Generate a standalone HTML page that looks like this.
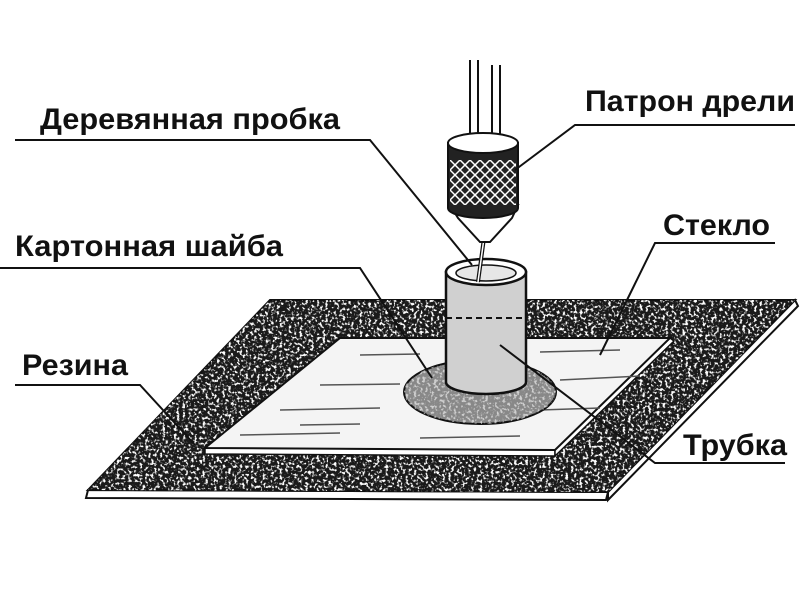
<!DOCTYPE html>
<html><head><meta charset="utf-8"><style>
html,body{margin:0;padding:0;background:#fff}
svg{display:block}
text{font-family:"Liberation Sans",sans-serif;font-size:30px;fill:#111;font-weight:bold}
</style></head><body>
<svg width="808" height="606" viewBox="0 0 808 606" xmlns="http://www.w3.org/2000/svg">
<defs>
<filter id="noise" x="0" y="0" width="100%" height="100%">
<feTurbulence type="fractalNoise" baseFrequency="0.35" numOctaves="2" seed="3" result="t"/>
<feColorMatrix type="matrix" values="0 0 0 0 0  0 0 0 0 0  0 0 0 0 0  -6 0 0 0 2.9" in="t" result="a"/>
<feFlood flood-color="#fff"/>
<feComposite in2="a" operator="in" result="w"/>
<feComposite in="w" in2="SourceGraphic" operator="in"/>
</filter>
<clipPath id="rub"><path d="M270,300 L795,300 L608,492 L88,490 Z"/></clipPath>
<clipPath id="ck"><rect x="450" y="160" width="66" height="45"/></clipPath>
</defs>
<!-- rubber -->
<path d="M88,490 L608,492 L606,500 L86,498 Z" fill="#fff" stroke="#111" stroke-width="2"/>
<path d="M608,492 L795,300 L798,306 L608,500 Z" fill="#fff" stroke="#111" stroke-width="2"/>
<path d="M270,300 L795,300 L608,492 L88,490 Z" fill="#1a1a1a" stroke="#111" stroke-width="2"/>
<rect x="80" y="295" width="720" height="210" fill="#333" filter="url(#noise)" clip-path="url(#rub)"/>
<!-- glass -->
<path d="M205,448 L555,450 L555,456 L205,454 Z" fill="#fff" stroke="#111" stroke-width="1.5"/>
<path d="M555,450 L670,338 L674,341 L555,456 Z" fill="#fff" stroke="#111" stroke-width="1.5"/>
<path d="M340,338 L670,338 L555,450 L205,448 Z" fill="#f4f4f4" stroke="#111" stroke-width="2"/>
<g stroke="#555" stroke-width="1.5">
<line x1="360" y1="355" x2="420" y2="354"/><line x1="540" y1="352" x2="620" y2="350"/>
<line x1="320" y1="385" x2="400" y2="384"/><line x1="560" y1="380" x2="640" y2="376"/>
<line x1="280" y1="410" x2="380" y2="408"/><line x1="540" y1="410" x2="600" y2="408"/>
<line x1="240" y1="435" x2="340" y2="433"/><line x1="420" y1="438" x2="520" y2="436"/>
<line x1="300" y1="425" x2="360" y2="424"/>
</g>
<!-- washer -->
<ellipse cx="480" cy="392" rx="76" ry="32" fill="#888" stroke="#111" stroke-width="2"/>
<ellipse cx="480" cy="392" rx="76" ry="32" fill="#fff" filter="url(#noise)" opacity="0.6"/>
<!-- tube -->
<path d="M446,272 L446,382 A40,12 0 0 0 526,382 L526,272 Z" fill="#d0d0d0" stroke="#111" stroke-width="2.5"/>
<line x1="446" y1="318" x2="526" y2="318" stroke="#111" stroke-width="2" stroke-dasharray="6,4"/>
<ellipse cx="486" cy="272" rx="40" ry="13" fill="#fff" stroke="#111" stroke-width="2.5"/>
<ellipse cx="486" cy="273" rx="30" ry="8" fill="#e6e6e6" stroke="#111" stroke-width="1.5"/>
<!-- bit -->
<line x1="484" y1="238" x2="478" y2="282" stroke="#111" stroke-width="4"/>
<line x1="484" y1="238" x2="478" y2="282" stroke="#fff" stroke-width="1.5"/>
<!-- shafts -->
<g stroke="#111" stroke-width="2"><line x1="470" y1="60" x2="470" y2="145"/><line x1="478" y1="60" x2="478" y2="145"/><line x1="492" y1="65" x2="492" y2="145"/><line x1="500" y1="65" x2="500" y2="145"/></g>
<!-- chuck -->
<path d="M450,205 L458,218 L480,242 L490,242 L512,218 L518,205 Z" fill="#fff" stroke="#111" stroke-width="2"/>
<path d="M448,143 L448,208 A35,10 0 0 0 518,208 L518,143 Z" fill="#222" stroke="#111" stroke-width="2"/>
<g stroke="#fff" stroke-width="1.5" clip-path="url(#ck)">
<path d="M420,160 l50,50 M430,160 l50,50 M440,160 l50,50 M450,160 l50,50 M460,160 l50,50 M470,160 l50,50 M480,160 l50,50 M490,160 l50,50 M500,160 l50,50 M510,160 l50,50 M410,160 l50,50"/>
<path d="M550,160 l-50,50 M540,160 l-50,50 M530,160 l-50,50 M520,160 l-50,50 M510,160 l-50,50 M500,160 l-50,50 M490,160 l-50,50 M480,160 l-50,50 M470,160 l-50,50 M460,160 l-50,50 M560,160 l-50,50"/>
</g>
<ellipse cx="483" cy="143" rx="35" ry="10" fill="#fff" stroke="#111" stroke-width="2"/>
<!-- leaders -->
<g stroke="#111" stroke-width="2" fill="none">
<polyline points="15,140 370,140 472,265"/>
<polyline points="795,125 575,125 515,170"/>
<polyline points="775,243 655,243 600,355"/>
<polyline points="0,268 360,268 432,378"/>
<polyline points="15,385 140,385 195,445"/>
<polyline points="785,463 655,463 500,345"/>
</g>
<text x="40" y="129" textLength="300" lengthAdjust="spacingAndGlyphs">Деревянная пробка</text>
<text x="585" y="111" textLength="210" lengthAdjust="spacingAndGlyphs">Патрон дрели</text>
<text x="663" y="235" textLength="107" lengthAdjust="spacingAndGlyphs">Стекло</text>
<text x="15" y="256" textLength="268" lengthAdjust="spacingAndGlyphs">Картонная шайба</text>
<text x="22" y="375" textLength="106" lengthAdjust="spacingAndGlyphs">Резина</text>
<text x="683" y="455" textLength="104" lengthAdjust="spacingAndGlyphs">Трубка</text>
</svg>
</body></html>
